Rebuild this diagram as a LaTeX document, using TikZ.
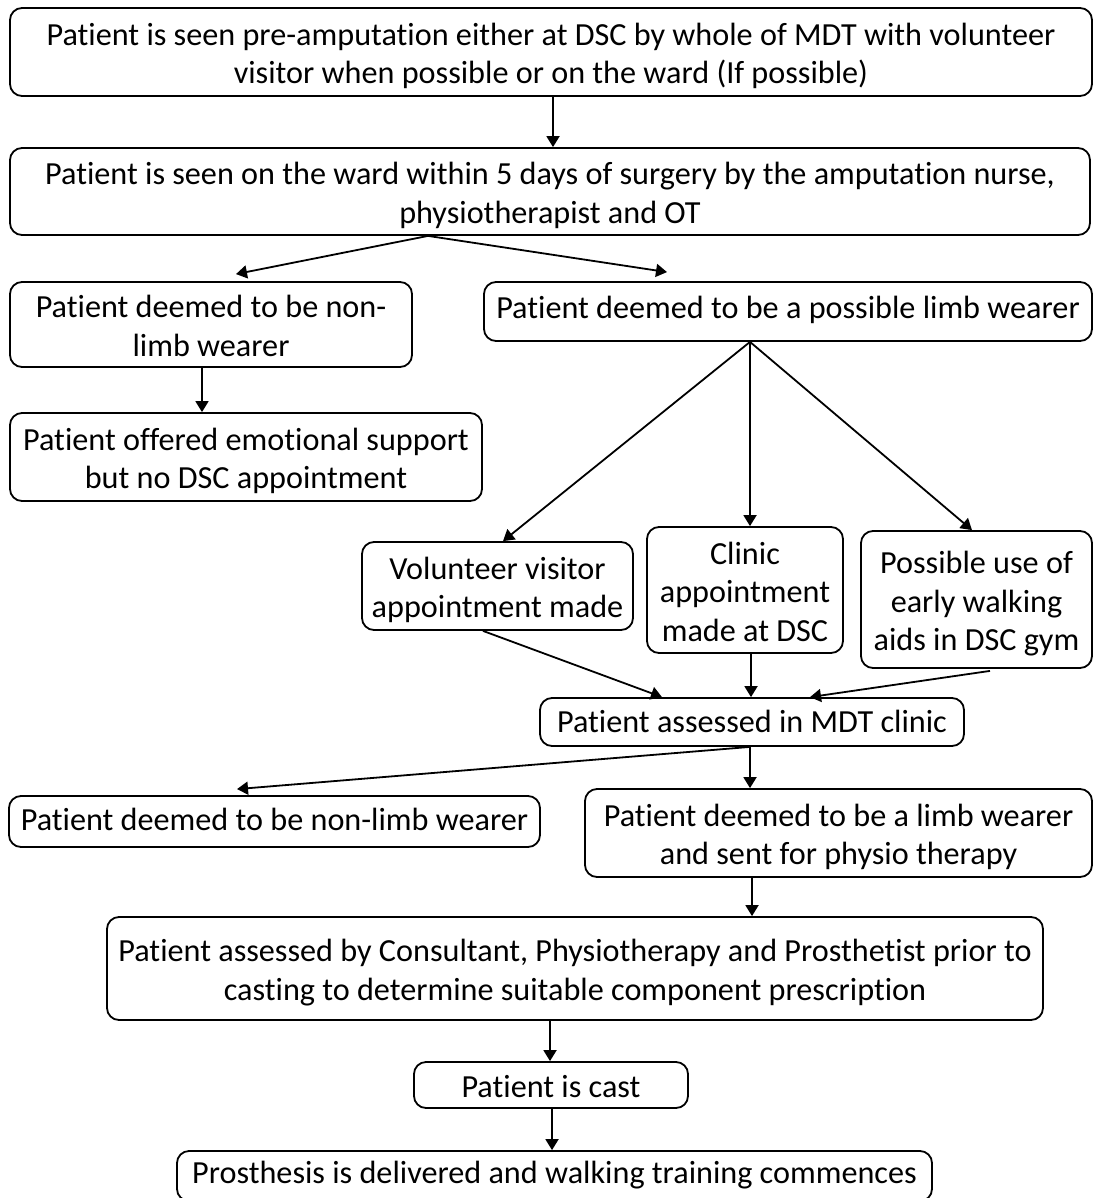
\documentclass[tikz,border=0pt]{standalone}
\usepackage{fontspec}
\setmainfont{Carlito}[Ligatures=NoCommon]
\usetikzlibrary{arrows.meta}

\tikzset{
  box/.style={draw, line width=1.8pt, rounded corners=12pt, inner sep=0pt,
    align=center, font=\fontsize{32.2}{38.5}\selectfont},
  arr/.style={line width=1.8pt, -{Triangle[length=11pt,width=13pt]}},
}
% place a box by its left, top, right and bottom edges (y grows downward);
% #1 is the height of the strut on the first line, which sets where the text sits
\newcommand{\flowbox}[7]{%
  \pgfmathsetmacro{\bw}{#5-#3}\pgfmathsetmacro{\bh}{#6-#4}%
  \pgfmathsetmacro{\bx}{(#3+#5)/2}\pgfmathsetmacro{\by}{(#4+#6)/2}%
  \node[box, minimum width=\bw pt, minimum height=\bh pt] (#2) at (\bx,\by)
    {\rule{0pt}{#1pt}#7\rule[-9pt]{0pt}{0pt}};}

\begin{document}
\begin{tikzpicture}[x=1pt, y=-1pt]
\useasboundingbox (0,0) rectangle (1093,1198);
\clip (0,0) rectangle (1093,1198);

\flowbox{34}{A}{10}{8}{1092}{96}{Patient is seen pre-amputation either at DSC by whole of MDT with volunteer\\visitor when possible or on the ward (If possible)}
\flowbox{34}{B}{10}{148}{1090}{235}{Patient is seen on the ward within 5 days of surgery by the amputation nurse,\\physiotherapist and OT}
\flowbox{34}{C}{10}{282}{412}{367}{Patient deemed to be non-\\limb wearer}
\flowbox{20}{D}{484}{282}{1092}{341}{Patient deemed to be a possible limb wearer}
\flowbox{34}{E}{10}{413}{482}{501}{Patient offered emotional support\\but no DSC appointment}
\flowbox{34}{F}{362}{542}{633}{630}{Volunteer visitor\\appointment made}
\flowbox{34}{G}{647}{527}{843}{653}{Clinic\\appointment\\made at DSC}
\flowbox{34}{H}{861}{531}{1092}{668}{Possible use of\\early walking\\aids in DSC gym}
\flowbox{29}{I}{540}{698}{964}{746}{Patient assessed in MDT clinic}
\flowbox{27}{J}{9}{796}{540}{847}{Patient deemed to be non-limb wearer}
\flowbox{34}{K}{585}{789}{1092}{877}{Patient deemed to be a limb wearer\\and sent for physio therapy}
\flowbox{34}{L}{107}{917}{1043}{1020}{Patient assessed by Consultant, Physiotherapy and Prosthetist prior to\\casting to determine suitable component prescription}
\flowbox{33}{M}{414}{1062}{688}{1108}{Patient is cast}
\flowbox{24}{N}{177}{1151}{932}{1201}{Prosthesis is delivered and walking training commences}

\draw[arr] ([xshift=2pt]A.south) -- ([xshift=3pt]B.north);
\draw[arr] ([xshift=-122pt]B.south) -- ([xshift=25pt,yshift=7pt]C.north);
\draw[arr] ([xshift=-122pt]B.south) -- ([xshift=-121pt,yshift=9pt]D.north);
\draw[arr] ([xshift=-9pt]C.south) -- ([xshift=-44pt]E.north);
\draw[arr] ([xshift=-38pt]D.south) -- ([xshift=5.5pt]F.north);
\draw[arr] ([xshift=-38pt]D.south) -- ([xshift=5pt]G.north);
\draw[arr] ([xshift=-38pt]D.south) -- ([xshift=-4.5pt]H.north);
\draw[arr] ([xshift=-14.5pt]F.south) -- ([xshift=-90pt]I.north);
\draw[arr] ([xshift=6pt]G.south) -- ([xshift=-1pt]I.north);
\draw[arr] ([xshift=13.5pt,yshift=-2pt]H.south) -- ([xshift=58pt]I.north);
\draw[arr] ([xshift=-2pt]I.south) -- ([xshift=-37.5pt,yshift=6pt]J.north);
\draw[arr] ([xshift=-2pt]I.south) -- ([xshift=-88.5pt]K.north);
\draw[arr] ([xshift=-86.5pt]K.south) -- ([xshift=177pt]L.north);
\draw[arr] ([xshift=-25pt]L.south) -- ([xshift=-1pt]M.north);
\draw[arr] ([xshift=1pt]M.south) -- ([xshift=-2.5pt]N.north);
\end{tikzpicture}
\end{document}
